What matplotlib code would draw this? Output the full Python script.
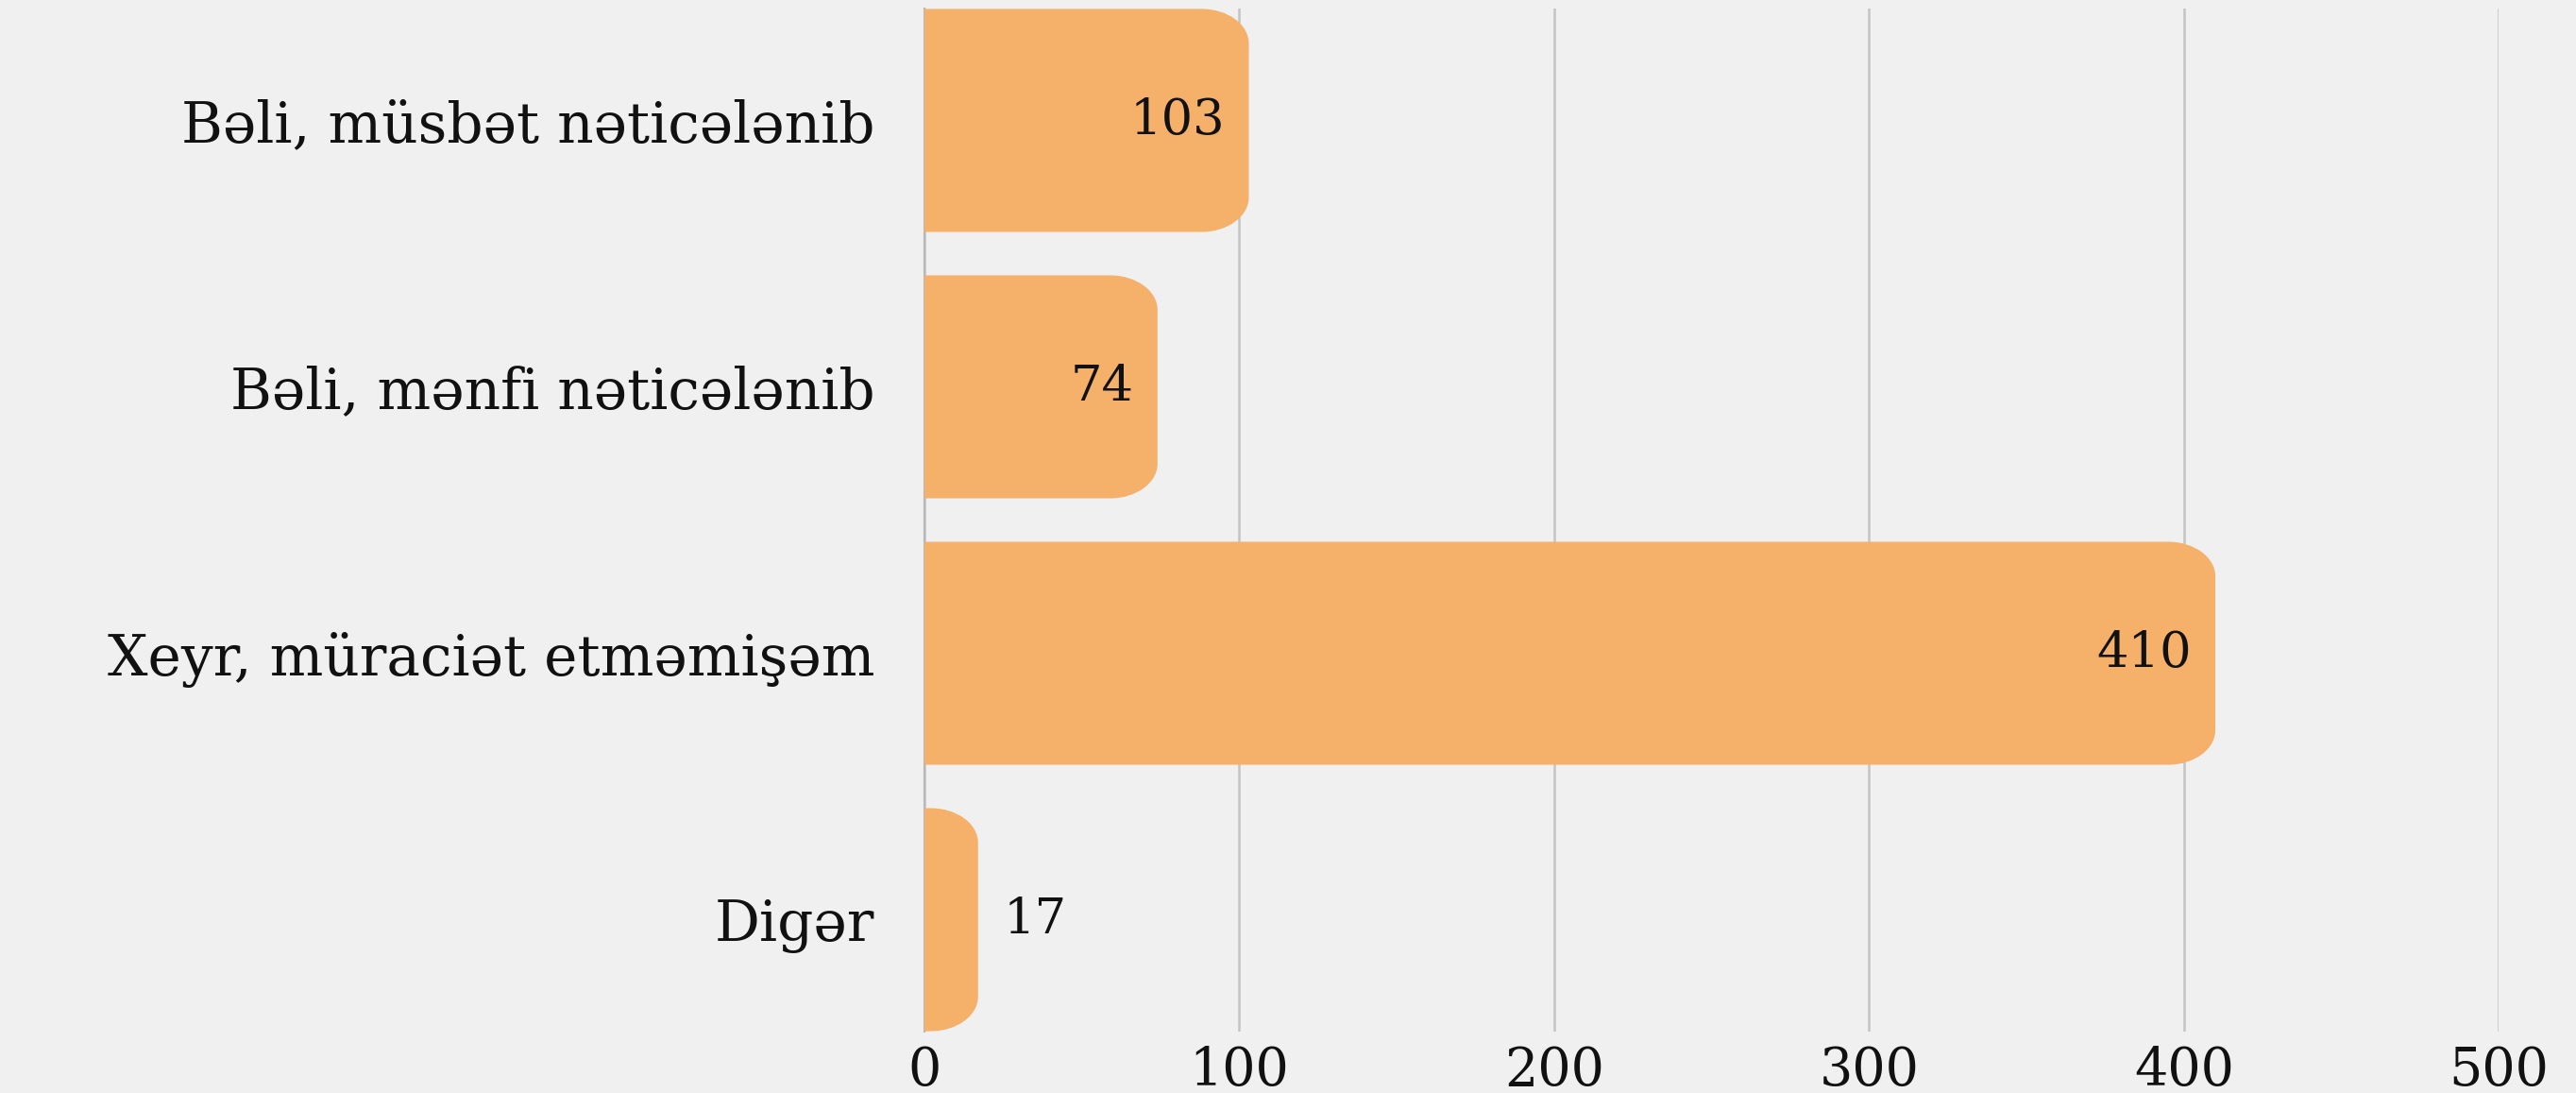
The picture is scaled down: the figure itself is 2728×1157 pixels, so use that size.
import matplotlib.pyplot as plt
from matplotlib.path import Path
from matplotlib.patches import PathPatch

categories = ["Bəli, müsbət nəticələnib", "Bəli, mənfi nəticələnib",
              "Xeyr, müraciət etməmişəm", "Digər"]
values = [103, 74, 410, 17]
x_ticks = [0, 100, 200, 300, 400, 500]

bg = "#f0f0f0"
bar_color = "#f5b069"
font = ["DejaVu Serif"]

fig = plt.figure(figsize=(27.28, 11.57), dpi=100, facecolor=bg)
ax = fig.add_axes([0.3589, 0.0562, 0.6111, 0.936])
ax.set_facecolor(bg)

bars = ax.barh(range(len(categories)), values, height=0.837, color=bar_color)
ax.set_xlim(0, 500)
ax.set_ylim(3.42, -0.42)


def rounded_right(x0, y0, w, h, rx, ry):
    # rectangle with the two right corners rounded (y axis is inverted)
    rx = min(rx, w)
    k = 0.5523
    x1, y1 = x0 + w, y0 + h
    verts = [(x0, y0), (x1 - rx, y0),
             (x1 - rx + k * rx, y0), (x1, y0 + ry - k * ry), (x1, y0 + ry),
             (x1, y1 - ry),
             (x1, y1 - ry + k * ry), (x1 - rx + k * rx, y1), (x1 - rx, y1),
             (x0, y1), (x0, y0)]
    codes = [Path.MOVETO, Path.LINETO,
             Path.CURVE4, Path.CURVE4, Path.CURVE4,
             Path.LINETO,
             Path.CURVE4, Path.CURVE4, Path.CURVE4,
             Path.LINETO, Path.CLOSEPOLY]
    return Path(verts, codes)


for b in bars:
    b.set_visible(False)
    p = rounded_right(b.get_x(), b.get_y(), b.get_width(), b.get_height(), 15.0, 0.13)
    ax.add_patch(PathPatch(p, facecolor=bar_color, edgecolor="none", zorder=3))

for i, v in enumerate(values):
    if v > 40:
        ax.text(v - 7.5, i, str(v), ha="right", va="center", fontsize=38,
                family=font, color="#111111", zorder=4)
    else:
        ax.text(v + 8, i, str(v), ha="left", va="center", fontsize=38,
                family=font, color="#111111", zorder=4)

ax.set_yticks(range(len(categories)))
ax.set_yticklabels(categories, family=font, fontsize=43, color="#111111")
ax.set_xticks(x_ticks)
ax.set_xticklabels([str(t) for t in x_ticks], family=font, fontsize=40, color="#111111")
ax.tick_params(axis="both", length=0)
ax.tick_params(axis="y", pad=38)
ax.tick_params(axis="x", pad=10)

ax.grid(axis="x", color="#c4c4c4", linewidth=1.8, zorder=0)
ax.set_axisbelow(True)
for s in ["top", "right", "bottom"]:
    ax.spines[s].set_visible(False)
ax.spines["left"].set_color("#b8b8b8")
ax.spines["left"].set_linewidth(1.5)

fig.savefig("out.png", dpi=100, facecolor=bg)
